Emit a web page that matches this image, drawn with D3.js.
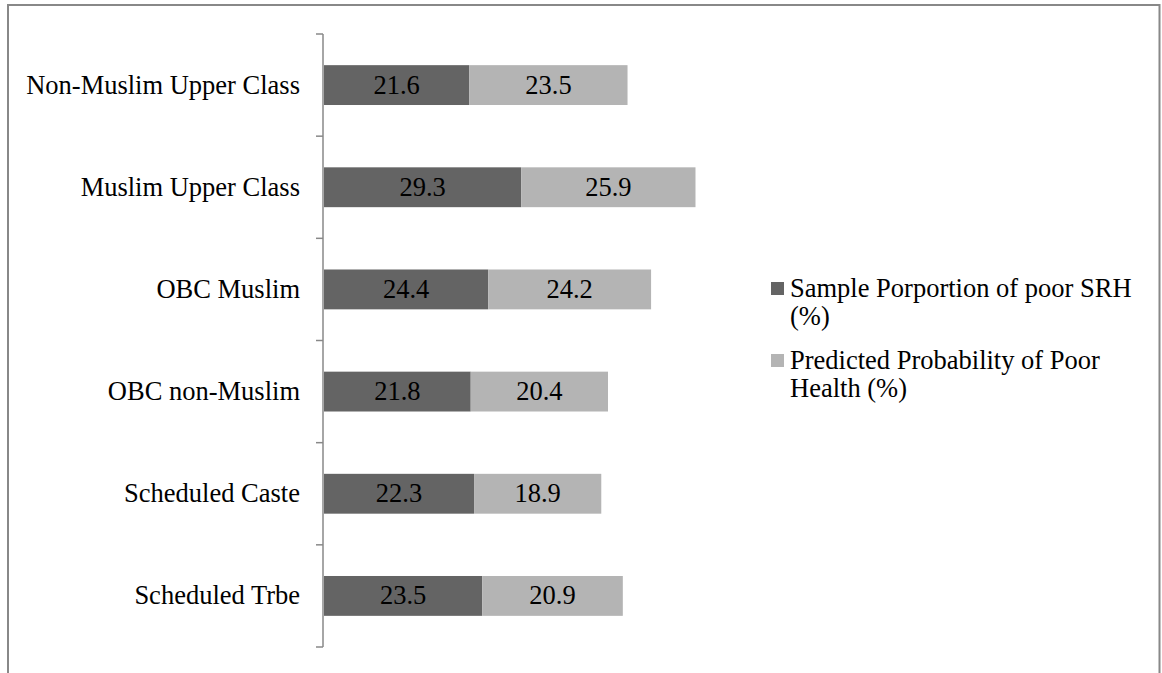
<!DOCTYPE html>
<html>
<head>
<meta charset="utf-8">
<script src="https://cdn.jsdelivr.net/npm/d3@7"></script>
<style>
  body { margin: 0; background: #fff; }
  svg text { font-family: "Liberation Serif", "Times New Roman", serif; fill: #000; }
</style>
</head>
<body>
<svg id="chart" width="1162" height="673"></svg>
<script>
const categories = ["Non-Muslim Upper Class", "Muslim Upper Class", "OBC Muslim",
                    "OBC non-Muslim", "Scheduled Caste", "Scheduled Trbe"];
const samplePoor = [21.6, 29.3, 24.4, 21.8, 22.3, 23.5];
const predictedPoor = [23.5, 25.9, 24.2, 20.4, 18.9, 20.9];
const seriesNames = [["Sample Porportion of poor SRH", "(%)"],
                     ["Predicted Probability of Poor", "Health (%)"]];
const colors = ["#646464", "#b4b4b4"];

const fontSize = 26.5;

const svg = d3.select("#chart");

// outer frame
svg.append("path")
  .attr("d", "M8,690 L8,5 L1159.5,5 L1159.5,690")
  .attr("fill", "none")
  .attr("stroke", "#888")
  .attr("stroke-width", 2);

const x = d3.scaleLinear().domain([0, 60]).range([324, 324 + 60 * 6.73]);
const y = d3.scaleBand().domain(categories).range([34, 647]).paddingInner(0.61).paddingOuter(0.305);

const rows = categories.map(function(c, i) {
  return {cat: c, vals: [samplePoor[i], predictedPoor[i]]};
});

// axis line and ticks
const g = svg.append("g");
const bounds = d3.range(categories.length + 1).map(function(i) {
  return 34 + i * y.step();
});
g.append("line")
  .attr("x1", 323).attr("x2", 323)
  .attr("y1", 34).attr("y2", 647)
  .attr("stroke", "#888").attr("stroke-width", 1.5);
g.selectAll(".tk")
  .data(bounds)
  .join("line")
    .attr("class", "tk")
    .attr("x1", 316).attr("x2", 323)
    .attr("y1", function(d){ return d; })
    .attr("y2", function(d){ return d; })
    .attr("stroke", "#888").attr("stroke-width", 1.5);

g.selectAll(".cat")
  .data(categories)
  .join("text")
    .attr("class", "cat")
    .attr("x", 300)
    .attr("y", function(d){ return y(d) + y.bandwidth() / 2; })
    .attr("dy", "0.32em")
    .attr("text-anchor", "end")
    .style("font-size", fontSize + "px")
    .text(function(d){ return d; });

const rowG = svg.selectAll(".row")
  .data(rows)
  .join("g")
    .attr("class", "row");

rowG.each(function(r) {
  let acc = 0;
  const segs = r.vals.map(function(v, k) {
    const s = {x0: acc, x1: acc + v, v: v, k: k, cat: r.cat};
    acc += v;
    return s;
  });
  const sel = d3.select(this);
  sel.selectAll("rect")
    .data(segs)
    .join("rect")
      .attr("x", function(d){ return x(d.x0); })
      .attr("width", function(d){ return x(d.x1) - x(d.x0); })
      .attr("y", y(r.cat))
      .attr("height", y.bandwidth())
      .attr("fill", function(d){ return colors[d.k]; });
  sel.selectAll("text")
    .data(segs)
    .join("text")
      .attr("x", function(d){ return (x(d.x0) + x(d.x1)) / 2; })
      .attr("y", y(r.cat) + y.bandwidth() / 2)
      .attr("dy", "0.32em")
      .attr("text-anchor", "middle")
      .style("font-size", fontSize + "px")
      .text(function(d){ return d.v.toFixed(1); });
});

// legend
const leg = svg.selectAll(".leg")
  .data(seriesNames)
  .join("g")
    .attr("class", "leg")
    .attr("transform", function(d, i){ return "translate(771," + (288 + i * 72) + ")"; });
leg.append("rect")
  .attr("x", 0).attr("y", -6)
  .attr("width", 13).attr("height", 13)
  .attr("fill", function(d, i){ return colors[i]; });
leg.append("text")
  .style("font-size", fontSize + "px")
  .selectAll("tspan")
  .data(function(d){ return d; })
  .join("tspan")
    .attr("x", 19)
    .attr("y", function(d, i){ return 9 + i * 28; })
    .text(function(d){ return d; });
</script>
</body>
</html>
